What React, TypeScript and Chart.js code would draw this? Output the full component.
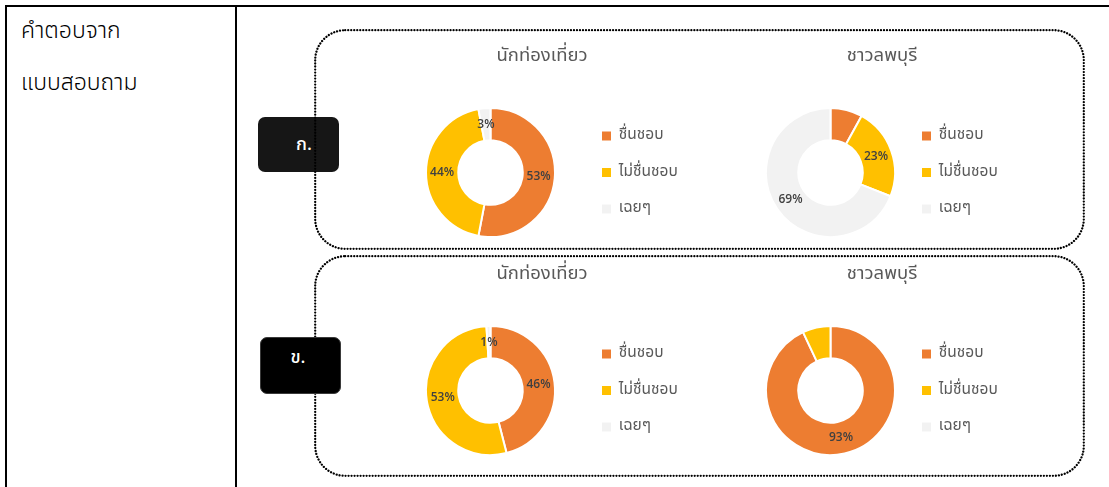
import React, { useEffect, useRef } from "react";
import { Chart, registerables } from "chart.js";

Chart.register(...registerables);

// ---- data ----
const categories = ["ชื่นชอบ", "ไม่ชื่นชอบ", "เฉยๆ"];
const sliceColors = ["#ED7D31", "#FFC000", "#F2F2F2"];
const chartTitles = ["นักท่องเที่ยว", "ชาวลพบุรี"];
const groupLabels = ["ก.", "ข."];
const sideText = ["คำตอบจาก", "แบบสอบถาม"];

const touristA = [53, 44, 3];
const lopburiA = [8, 23, 69];
const touristB = [46, 53, 1];
const lopburiB = [93, 7, 0];

const touristAShow = [true, true, true];
const lopburiAShow = [false, true, true];
const touristBShow = [true, true, true];
const lopburiBShow = [true, false, false];

const THAI_FONT = "'Noto Sans Thai', 'Leelawadee UI', Tahoma, 'Noto Sans', 'DejaVu Sans', sans-serif";

const pctLabelPlugin = {
  id: "pctLabels",
  afterDatasetsDraw(chart: any, _args: any, opts: any) {
    const { ctx } = chart;
    const meta = chart.getDatasetMeta(0);
    const ds = chart.data.datasets[0];
    const show: boolean[] = opts.show || [];
    ctx.save();
    ctx.font = "600 12px 'Open Sans', 'Noto Sans', sans-serif";
    ctx.fillStyle = "#404040";
    ctx.textAlign = "center";
    ctx.textBaseline = "middle";
    meta.data.forEach((arc: any, i: number) => {
      if (!show[i]) return;
      const p = arc.tooltipPosition(false);
      ctx.fillText(ds.data[i] + "%", p.x, p.y);
    });
    ctx.restore();
  },
};

const fixedLegendWidthPlugin = {
  id: "fixedLegendWidth",
  beforeLayout(chart: any, _args: any, opts: any) {
    const lg = chart.legend;
    if (lg && !lg.__patched) {
      const orig = lg.fit.bind(lg);
      lg.fit = function () {
        orig();
        this.width = opts.width;
      };
      lg.__patched = true;
    }
  },
};

type DonutProps = {
  values: number[];
  show: boolean[];
  title: string;
  left: number;
  top: number;
  width: number;
  height: number;
  legendWidth: number;
};

function Donut({ values, show, title, left, top, width, height, legendWidth }: DonutProps) {
  const ref = useRef<HTMLCanvasElement | null>(null);
  useEffect(() => {
    if (!ref.current) return;
    const chart = new Chart(ref.current, {
      type: "doughnut",
      data: {
        labels: categories,
        datasets: [
          {
            data: values,
            backgroundColor: sliceColors,
            borderColor: "#FFFFFF",
            borderWidth: 2,
          },
        ],
      },
      options: {
        responsive: false,
        animation: false,
        cutout: "50%",
        layout: { padding: { left: 0, right: 0, top: 0, bottom: 2 } },
        plugins: {
          title: {
            display: true,
            text: title,
            color: "#595959",
            font: { size: 18.5, family: THAI_FONT, weight: "normal", lineHeight: 1.2 },
            padding: { top: 5.9, bottom: 38.9 },
          },
          legend: {
            position: "right",
            fullSize: false,
            labels: {
              boxWidth: 9,
              boxHeight: 9,
              padding: 21,
              color: "#595959",
              font: { size: 15.5, family: THAI_FONT },
              generateLabels: () =>
                categories.map((t, i) => ({
                  text: t,
                  fillStyle: sliceColors[i],
                  strokeStyle: sliceColors[i],
                  lineWidth: 0,
                  hidden: false,
                  index: i,
                  fontColor: "#595959",
                })),
            },
          },
          tooltip: { enabled: false },
          pctLabels: { show },
          fixedLegendWidth: { width: legendWidth },
        } as any,
      },
      plugins: [pctLabelPlugin, fixedLegendWidthPlugin],
    } as any);
    return () => chart.destroy();
  }, [values, show, title, legendWidth]);
  return (
    <canvas
      ref={ref}
      width={width}
      height={height}
      style={{ position: "absolute", left, top, width, height, zIndex: 5 }}
    />
  );
}

function DottedFrame({ left, top, width, height, z }: { left: number; top: number; width: number; height: number; z: number }) {
  return (
    <svg
      width={width}
      height={height}
      style={{ position: "absolute", left, top, zIndex: z, overflow: "visible" }}
    >
      <rect
        x={1.2}
        y={1.2}
        width={width - 2.4}
        height={height - 2.4}
        rx={30}
        ry={30}
        fill="none"
        stroke="#000"
        strokeWidth={2.3}
        strokeDasharray="0.01 3"
        strokeLinecap="round"
      />
    </svg>
  );
}

export default function App() {
  useEffect(() => {
    document.body.style.margin = "0";
  }, []);
  const line = (l: number, t: number, w: number, h: number) => (
    <div style={{ position: "absolute", left: l, top: t, width: w, height: h, background: "#000" }} />
  );
  return (
    <div
      style={{
        position: "fixed",
        left: 0,
        top: 0,
        width: 1109,
        height: 487,
        overflow: "hidden",
        background: "#fff",
        fontFamily: THAI_FONT,
      }}
    >
      {line(5, 5, 1104, 2)}
      {line(5, 5, 2, 482)}
      {line(235, 5, 2, 482)}
      <div style={{ position: "absolute", left: 21, top: 17, fontSize: 23, fontWeight: 300, color: "#000", lineHeight: "28px", whiteSpace: "nowrap" }}>
        {sideText[0]}
      </div>
      <div style={{ position: "absolute", left: 21, top: 69, fontSize: 23, fontWeight: 300, color: "#000", lineHeight: "28px", whiteSpace: "nowrap" }}>
        {sideText[1]}
      </div>

      {/* group ก. label (under the dotted frame) */}
      <div
        style={{
          position: "absolute",
          left: 258,
          top: 117,
          width: 81,
          height: 55,
          background: "#161616",
          borderRadius: 7,
          zIndex: 1,
          color: "#fff",
          fontSize: 18,
          fontWeight: 500,
          display: "flex",
          alignItems: "center",
          justifyContent: "center",
          paddingLeft: 11,
          boxSizing: "border-box",
        }}
      >
        {groupLabels[0]}
      </div>
      <DottedFrame left={314} top={29} width={771} height={221} z={2} />
      <DottedFrame left={314} top={255} width={771} height={222} z={2} />
      {/* group ข. label (over the dotted frame) */}
      <div
        style={{
          position: "absolute",
          left: 260,
          top: 337,
          width: 81,
          height: 57,
          background: "#000",
          borderRadius: 7,
          zIndex: 3,
          color: "#fff",
          fontSize: 18,
          fontWeight: 500,
          display: "flex",
          alignItems: "flex-start",
          justifyContent: "center",
          paddingTop: 6,
          paddingRight: 5,
          boxSizing: "border-box",
          border: "1px solid #3a3a3a",
        }}
      >
        {groupLabels[1]}
      </div>

      <Donut values={touristA} show={touristAShow} title={chartTitles[0]} left={400} top={40} width={284} height={200} legendWidth={103} />
      <Donut values={lopburiA} show={lopburiAShow} title={chartTitles[1]} left={760} top={40} width={244} height={200} legendWidth={103} />
      <Donut values={touristB} show={touristBShow} title={chartTitles[0]} left={400} top={258} width={284} height={200} legendWidth={103} />
      <Donut values={lopburiB} show={lopburiBShow} title={chartTitles[1]} left={760} top={258} width={244} height={200} legendWidth={103} />
    </div>
  );
}
